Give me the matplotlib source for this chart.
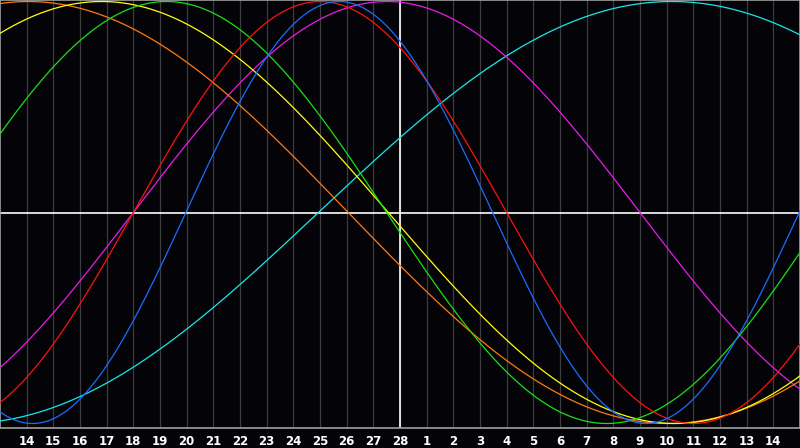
import numpy as np
from matplotlib import pyplot as plt

# biorhythm cycles: period in days, day (from left edge) where the curve crosses zero going up
periods = [23, 28, 33, 38, 43, 48, 53]
zero_days = [6.97, 5.0, -2.0, 5.0, -6.94, -10.94, 11.94]
colors = ["#1a6cff", "#ff1010", "#18e018", "#e81ce8", "#ffff10", "#ff7a10", "#18e8e8"]
draw_order = [6, 3, 5, 4, 2, 1, 0]

# x axis: 30 days shown, today (28) in the middle
day_labels = ["14", "15", "16", "17", "18", "19", "20", "21", "22", "23", "24", "25", "26", "27", "28",
              "1", "2", "3", "4", "5", "6", "7", "8", "9", "10", "11", "12", "13", "14"]
today = 15
n_days = 30

fig = plt.figure(figsize=(8, 4.48), dpi=100, facecolor="#040408")
ax = fig.add_axes([0, 20 / 448, 1, 428 / 448])
ax.set_facecolor("#040408")

ax.set_xlim(0, n_days)
ax.set_ylim(-1.0213, 1.0071)

# day grid
for d in range(1, n_days):
    ax.axvline(d, color="#3c3c40", lw=0.9, zorder=1)

ax.axhline(0, color="white", lw=1.2, zorder=2)
ax.axvline(today, color="white", lw=1.2, zorder=2)

x = np.linspace(0, n_days, 1201)
for i in draw_order:
    y = np.sin(2 * np.pi * (x - zero_days[i]) / periods[i])
    ax.plot(x, y, color=colors[i], lw=0.9, zorder=3)

ax.set_xticks(range(1, n_days))
ax.set_xticklabels(day_labels, color="white", fontsize=8.5, fontweight="bold", family="DejaVu Sans")
ax.tick_params(axis="x", length=0, pad=5)
ax.set_yticks([])

for side in ax.spines.values():
    side.set_color("#a0a0a0")
    side.set_linewidth(1.2)

fig.savefig("out.png", dpi=100, facecolor=fig.get_facecolor())
